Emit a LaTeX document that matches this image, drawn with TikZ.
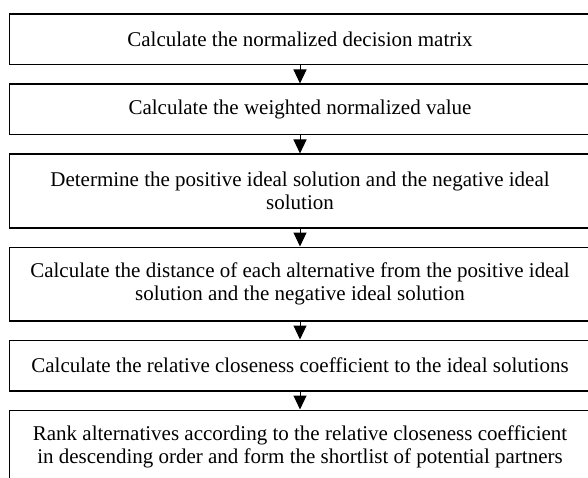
\documentclass[tikz,border=0pt]{standalone}
\usepackage{fontspec}
\setmainfont{Liberation Serif}
\usetikzlibrary{positioning,arrows.meta}
\begin{document}
\begin{tikzpicture}[x=1pt,y=1pt]
\tikzstyle{stepbox}=[draw=black,line width=1.5pt,minimum width=581pt,minimum height=50.5pt,align=center,inner sep=0pt,font=\fontsize{21}{23}\selectfont]
\tikzstyle{tallbox}=[stepbox,minimum height=73.5pt]
\tikzstyle{flow}=[black,line width=1pt,-{Triangle[length=14pt,width=13pt]}]
\useasboundingbox (0,0) rectangle (588,-478);
\node [stepbox] (norm) at (300,-39.5) {Calculate the normalized decision matrix};
\node [stepbox,below=18pt of norm] (weight) {Calculate the weighted normalized value};
\node [tallbox,below=18pt of weight] (ideal) {Determine the positive ideal solution and the negative ideal\\solution};
\node [tallbox,below=18pt of ideal] (dist) {Calculate the distance of each alternative from the positive ideal\\solution and the negative ideal solution};
\node [stepbox,below=18pt of dist] (close) {Calculate the relative closeness coefficient to the ideal solutions};
\node [tallbox,below=18pt of close] (rank) {Rank alternatives according to the relative closeness coefficient\\in descending order and form the shortlist of potential partners};
% arrows between steps
\foreach \a/\b in {norm/weight,weight/ideal,ideal/dist,dist/close,close/rank}
  \draw [flow] (\a) -- (\b);
\end{tikzpicture}
\end{document}
